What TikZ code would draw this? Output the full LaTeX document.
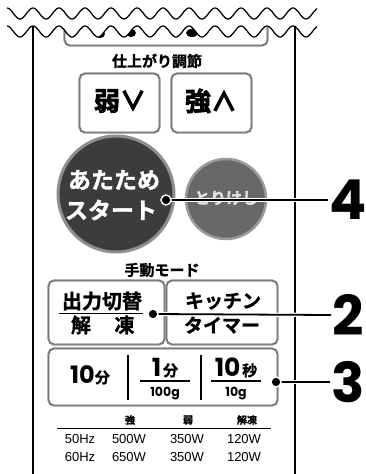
\documentclass[tikz,border=0pt]{standalone}
\usepackage{fontspec}
\setmainfont{Noto Sans CJK JP}[BoldFont={Noto Sans CJK JP Bold}, BoldFeatures={FakeBold=1.3}]
\newfontfamily\heavyf{Noto Sans CJK JP Bold}[FakeBold=3]
\newfontfamily\digf{Poppins}
\newfontfamily\arialf{Liberation Sans}
\definecolor{btngray}{HTML}{8C8C8C}
\definecolor{btnline}{HTML}{555555}
\definecolor{bigfill}{HTML}{3C3C3C}
\definecolor{bigedge}{HTML}{8E8E8E}
\definecolor{smallfill}{HTML}{686868}
\definecolor{smalledge}{HTML}{9A9A9A}
\definecolor{smalltext}{HTML}{E2E2E2}
\newcommand{\fs}[1]{\fontsize{#1}{#1}\selectfont}
\begin{document}
\begin{tikzpicture}[x=1pt,y=-1pt,
  btn/.style={rectangle, rounded corners=5pt, fill=white, draw=btnline, line width=0.7pt,
    preaction={draw=btngray, line width=3.2pt}, inner sep=0pt},
  lbl/.style={inner sep=0pt, font=\bfseries},
  tdot/.style={circle, fill=black, draw=white, line width=1.4pt, minimum size=10pt, inner sep=0pt},
  lead/.style={line width=1.8pt, preaction={draw=white, line width=4.2pt}},
  bignum/.style={inner sep=0pt, font=\digf\fs{55}\bfseries},
  wave/.style={line width=1.25pt},
  tbl/.style={inner sep=0pt, font=\arialf\fs{13}},
  tblh/.style={inner sep=0pt, font=\fs{10}\bfseries},
]
\useasboundingbox (0,0) rectangle (366,474);
% hidden top button
\node[btn, minimum width=202pt, minimum height=56pt] (topbtn) at (166,17) {};
\fill (100,34) ellipse (5 and 4);
\fill (131,33) ellipse (5 and 4);
\fill (192,33) ellipse (6 and 4);
% white cover above wave 2
\fill[white] (0,0) -- (0,31) -- plot[domain=0:366, samples=250] (\x, {31.5 - 5.5*cos(13.8462*(\x-33))}) -- (366,0) -- cycle;
% waves
\draw[wave] plot[domain=7:317, samples=250] (\x, {13.5 - 5.5*cos(13.8462*(\x-33))});
\draw[wave] plot[domain=7:317, samples=250] (\x, {31.5 - 5.5*cos(13.8462*(\x-33))});
% panel border
\coordinate (pl1) at (33,26);
\coordinate (pl2) at (33,474);
\coordinate (pr1) at (295,26);
\coordinate (pr2) at (295,474);
\draw[line width=1.1pt] (pl1) -- (pl2);
\draw[line width=1.1pt] (pr1) -- (pr2);
% 仕上がり調節
\node[lbl, font=\fs{15}\bfseries] (title1) at (157,61) {仕上がり調節};
\node[btn, minimum width=79pt, minimum height=58pt] (weak) at (119.5,103) {};
\node[btn, minimum width=79pt, minimum height=58pt] (strong) at (211.5,103) {};
\node[lbl, font=\fs{26}\heavyf] (weakt) at (120,101) {弱∨};
\node[lbl, font=\fs{26}\heavyf] (strongt) at (211,101) {強∧};
% circles
\node[circle, fill=smallfill, draw=smalledge, line width=2.5pt, minimum size=80pt, inner sep=0pt] (cancel) at (226,199) {};
\node[inner sep=0pt, text=smalltext, font=\fs{16}\bfseries] (cancelt) at (226,198) {とりけし};
\node[circle, fill=bigfill, draw=bigedge, line width=3pt, minimum size=116pt, inner sep=0pt] (start) at (116,194) {};
\node[lbl, text=white, font=\fs{23}\bfseries] (startt1) at (114,180) {あたため};
\node[lbl, text=white, font=\fs{23}\bfseries] (startt2) at (111,210) {スタート};
% 手動モード
\node[lbl, font=\fs{15}\bfseries] (title2) at (162,270) {手動モード};
\node[btn, minimum width=115pt, minimum height=63pt] (power) at (106.5,312.5) {};
\node[btn, minimum width=110pt, minimum height=63pt] (kitchen) at (222,312.5) {};
\node[lbl, font=\fs{20}\bfseries] (powert) at (102,301) {出力切替};
\coordinate (ul1) at (59,313);
\coordinate (ul2) at (143,313);
\draw[line width=1pt] (ul1) -- (ul2);
\node[lbl, font=\fs{20}\bfseries] (defr1) at (81,325) {解};
\node[lbl, font=\fs{20}\bfseries] (defr2) at (124.5,325) {凍};
\node[lbl, font=\fs{19}\bfseries] (kitt1) at (223,301) {キッチン};
\node[lbl, font=\fs{19}\bfseries] (kitt2) at (222,325) {タイマー};
% time button
\node[btn, minimum width=228pt, minimum height=56pt] (time) at (163,377) {};
\node[lbl, anchor=base] (t10) at (90,383) {{\digf\fs{24}\bfseries 10}{\fs{15}\bfseries 分}};
\coordinate (s1a) at (128,355);
\coordinate (s1b) at (128,400);
\coordinate (s2a) at (201,355);
\coordinate (s2b) at (201,400);
\draw[line width=1.5pt] (s1a) -- (s1b);
\draw[line width=1.5pt] (s2a) -- (s2b);
\node[lbl, anchor=base] (t1) at (165,376) {{\digf\fs{25}\bfseries 1}\,{\fs{15}\bfseries 分}};
\coordinate (f1a) at (140,381);
\coordinate (f1b) at (190,381);
\draw[line width=1.3pt] (f1a) -- (f1b);
\node[lbl, anchor=base, font=\digf\fs{12.5}\bfseries] (g100) at (165,396) {100g};
\node[lbl, anchor=base] (t10s) at (236,376) {{\digf\fs{25}\bfseries 10}\,{\fs{15}\bfseries 秒}};
\coordinate (f2a) at (211,381);
\coordinate (f2b) at (261,381);
\draw[line width=1.3pt] (f2a) -- (f2b);
\node[lbl, anchor=base, font=\digf\fs{12.5}\bfseries] (g10) at (236,396) {10g};
% table
\node[tblh] (hs) at (130,420) {強};
\node[tblh] (hw) at (188,420) {弱};
\node[tblh] (hd) at (247,420) {解凍};
\coordinate (tl1) at (57,428);
\coordinate (tl2) at (271,428);
\draw[line width=0.8pt] (tl1) -- (tl2);
\node[tbl] (r1a) at (80,439) {50Hz};
\node[tbl] (r1b) at (129,439) {500W};
\node[tbl] (r1c) at (187,439) {350W};
\node[tbl] (r1d) at (244,439) {120W};
\node[tbl] (r2a) at (80,457) {60Hz};
\node[tbl] (r2b) at (129,457) {650W};
\node[tbl] (r2c) at (187,457) {350W};
\node[tbl] (r2d) at (244,457) {120W};
% callouts
\node[bignum] (n4) at (348,200) {4};
\node[bignum] (n2) at (348,315) {2};
\node[bignum] (n3) at (348,382) {3};
\coordinate (d4) at (166,200);
\coordinate (d2) at (153,314);
\coordinate (d3) at (276,382);
\draw[lead] (d4) -- ([xshift=-1pt]n4.west);
\draw[lead] (d2) -- ([xshift=-1pt]n2.west);
\draw[lead] (d3) -- ([xshift=-1pt]n3.west);
\node[tdot] (dot4) at (d4) {};
\node[tdot] (dot2) at (d2) {};
\node[tdot] (dot3) at (d3) {};
\end{tikzpicture}
\end{document}
